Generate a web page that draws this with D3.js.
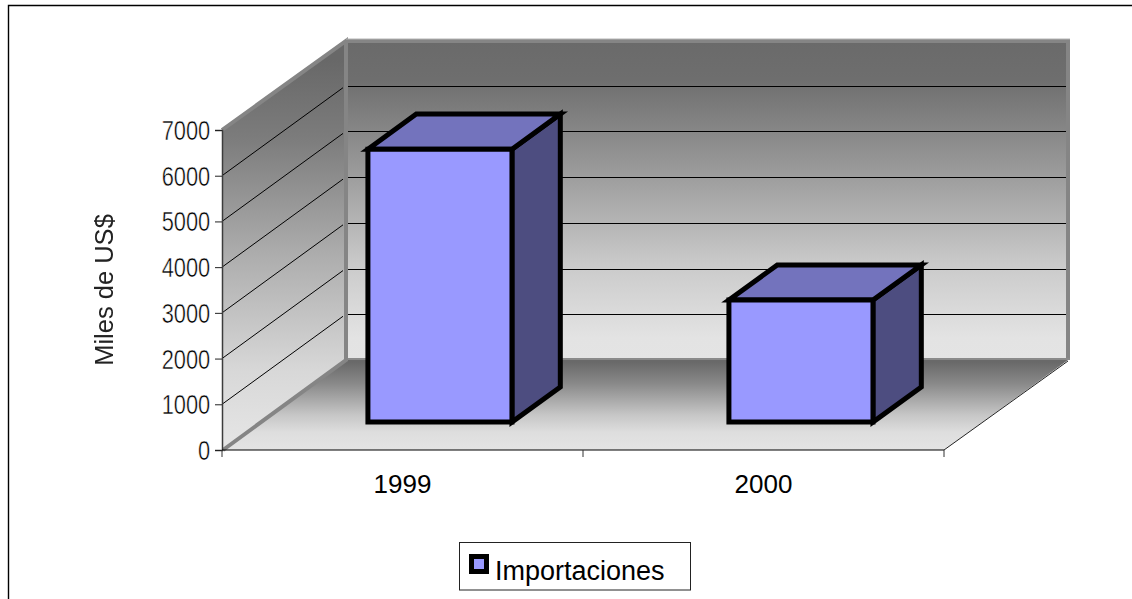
<!DOCTYPE html>
<html>
<head>
<meta charset="utf-8">
<script src="https://cdnjs.cloudflare.com/ajax/libs/d3/7.8.5/d3.min.js"></script>
<style>
    html, body { margin: 0; padding: 0; background: #fff; overflow: hidden; }
    text { font-family: "Liberation Sans", Arial, sans-serif; fill: #000; }
</style>
</head>
<body>
<div id="chart"></div>
<script>
// Chart values
const years = ['1999', '2000'];
const imports = [5970, 2670];
const y_ticks = [0, 1000, 2000, 3000, 4000, 5000, 6000, 7000];
const series_name = 'Importaciones';
const y_title = 'Miles de US$';

const width = 1132, height = 599;
const front = { left: 222, right: 944, bottom: 450, top: 130 };
const depth_x = 124, depth_y = -90;

const svg = d3.select('#chart').append('svg')
    .attr('width', width)
    .attr('height', height);

// Scales
const x_scale = d3.scaleBand().domain(years).range([front.left, front.right]);
const y_scale = d3.scaleLinear().domain([0, 7000]).range([front.bottom, front.top]);
const depth_scale = d3.scaleLinear().domain([0, 1]).range([0, 1]);

// Project a point in the 3D box to the screen
const px = (x, z) => x + depth_scale(z) * depth_x;
const py = (y, z) => y + depth_scale(z) * depth_y;
const poly = pts => pts.map(p => p.join(',')).join(' ');

// Gradients
const defs = svg.append('defs');
function add_gradient(id, y1, y2, stops) {
    const g = defs.append('linearGradient')
        .attr('id', id)
        .attr('gradientUnits', 'userSpaceOnUse')
        .attr('x1', 0).attr('x2', 0)
        .attr('y1', y1).attr('y2', y2);
    stops.forEach(s => g.append('stop').attr('offset', s[0]).attr('stop-color', s[1]));
}
add_gradient('wall-grad', 41, 360, [[0, '#6a6a6a'], [0.12, '#6e6e6e'], [0.4, '#999'], [0.7, '#cacaca'], [0.93, '#e3e3e3'], [1, '#e4e4e4']]);
add_gradient('side-grad', 60, 450, [[0, '#686868'], [0.2, '#7c7c7c'], [0.5, '#adadad'], [0.8, '#d8d8d8'], [1, '#e6e6e6']]);
add_gradient('floor-grad', 362, 450, [[0, '#696969'], [0.25, '#8a8a8a'], [0.6, '#c6c6c6'], [0.8, '#dedede'], [1, '#e4e4e4']]);

// Soft edge for the resampled axis title
defs.append('filter').attr('id', 'soft')
    .append('feGaussianBlur').attr('stdDeviation', 0.5);

// Outer frame
svg.append('path')
    .attr('d', `M8.5,${height}V5.5H${width}`)
    .attr('fill', 'none')
    .attr('stroke', '#000')
    .attr('stroke-width', 1.4);

// Walls and floor
const x0 = front.left, x1 = front.right, y0 = front.bottom, y1 = front.top;

svg.append('polygon')
    .attr('points', poly([[px(x0, 1), py(y1, 1)], [px(x1, 1), py(y1, 1)], [px(x1, 1), py(y0, 1)], [px(x0, 1), py(y0, 1)]]))
    .attr('fill', 'url(#wall-grad)');

svg.append('polygon')
    .attr('points', poly([[x0, y1], [px(x0, 1), py(y1, 1)], [px(x0, 1), py(y0, 1)], [x0, y0]]))
    .attr('fill', 'url(#side-grad)');

svg.append('polygon')
    .attr('points', poly([[x0, y0], [x1, y0], [px(x1, 1), py(y0, 1)], [px(x0, 1), py(y0, 1)]]))
    .attr('fill', 'url(#floor-grad)');

// Gridlines
const grid = svg.append('g').attr('stroke', '#000').attr('stroke-width', 1).attr('fill', 'none');
y_ticks.filter(d => d > 0 && d < 7000).forEach(d => {
    const y = y_scale(d);
    grid.append('line')
        .attr('x1', x0).attr('y1', y)
        .attr('x2', px(x0, 1) - 3).attr('y2', py(y, 1) + 2);
    grid.append('line')
        .attr('x1', px(x0, 1)).attr('y1', Math.round(py(y, 1)) + 0.5)
        .attr('x2', px(x1, 1)).attr('y2', Math.round(py(y, 1)) + 0.5);
});

// Wall borders
const wall_border = svg.append('g').attr('fill', 'none').attr('stroke', '#858585').attr('stroke-width', 4);
wall_border.append('polyline')
    .attr('points', poly([[x0, y1], [px(x0, 1), py(y1, 1) + 1], [px(x0, 1), py(y0, 1)], [x0 + 1, y0]]));
wall_border.append('polyline')
    .attr('points', poly([[px(x1, 1), py(y1, 1) + 1], [px(x1, 1), py(y0, 1)]]));
wall_border.append('line')
    .attr('x1', px(x0, 1)).attr('y1', py(y1, 1) + 1)
    .attr('x2', px(x1, 1) + 2).attr('y2', py(y1, 1) + 1);
svg.append('line')
    .attr('x1', px(x0, 1) + 2).attr('y1', py(y0, 1) - 1)
    .attr('x2', px(x1, 1) + 2).attr('y2', py(y0, 1) - 1)
    .attr('stroke', '#8a8a8a').attr('stroke-width', 2);
svg.append('line')
    .attr('x1', px(x0, 1)).attr('y1', py(y1, 1) - 1)
    .attr('x2', px(x1, 1) + 2).attr('y2', py(y1, 1) - 1)
    .attr('stroke', '#b5b5b5').attr('stroke-width', 1);

// Bars
const bar_width = 0.399, bar_z0 = 0.31, bar_z1 = 0.70, bar_shift = -1;
const bar_group = svg.append('g')
    .attr('stroke', '#000')
    .attr('stroke-width', 5)
    .attr('stroke-linejoin', 'miter');

years.forEach((year, i) => {
    const cx = x_scale(year) + x_scale.bandwidth() / 2 + bar_shift;
    const half = x_scale.bandwidth() * bar_width / 2;
    const l = cx - half, r = cx + half;
    const top = y_scale(imports[i]), bottom = y_scale(0);
    bar_group.append('polygon')
        .attr('points', poly([[px(r, bar_z0), py(top, bar_z0)], [px(r, bar_z1), py(top, bar_z1)], [px(r, bar_z1), py(bottom, bar_z1)], [px(r, bar_z0), py(bottom, bar_z0)]]))
        .attr('fill', '#4d4d80');
    bar_group.append('polygon')
        .attr('points', poly([[px(l, bar_z0), py(top, bar_z0)], [px(l, bar_z1), py(top, bar_z1)], [px(r, bar_z1), py(top, bar_z1)], [px(r, bar_z0), py(top, bar_z0)]]))
        .attr('fill', '#7373bd');
    bar_group.append('polygon')
        .attr('points', poly([[px(l, bar_z0), py(top, bar_z0)], [px(r, bar_z0), py(top, bar_z0)], [px(r, bar_z0), py(bottom, bar_z0)], [px(l, bar_z0), py(bottom, bar_z0)]]))
        .attr('fill', '#9999ff');
});

// Y axis
const y_axis = svg.append('g')
    .attr('transform', `translate(${front.left},0)`)
    .call(d3.axisLeft(y_scale).tickValues(y_ticks).tickSize(7).tickPadding(3).tickFormat(d3.format('d')));
y_axis.select('.domain').attr('stroke', '#3c3c3c').attr('stroke-width', 1.5);
y_axis.selectAll('.tick line').attr('stroke', '#222');
// narrow, thin digits: squeezed and eaten back with a white outline
y_axis.selectAll('text')
    .style('font-size', '28px')
    .style('fill', '#000')
    .style('stroke', '#fff')
    .style('stroke-width', '0.5px')
    .attr('dy', '0.34em')
    .attr('transform', 'translate(-4,0) scale(0.78,1)');

// Floor edge on the right
svg.append('line')
    .attr('x1', x1).attr('y1', y0)
    .attr('x2', px(x1, 1)).attr('y2', py(y0, 1) + 1)
    .attr('stroke', '#222').attr('stroke-width', 1);

// X axis
const x_axis = svg.append('g').attr('transform', `translate(0,${front.bottom})`);
x_axis.append('line')
    .attr('x1', x0).attr('x2', x1)
    .attr('stroke', '#000').attr('stroke-width', 1.2);
[x0, ...years.map(d => x_scale(d) + x_scale.bandwidth())].forEach(x => {
    x_axis.append('line')
        .attr('x1', x).attr('x2', x)
        .attr('y1', 0).attr('y2', 7)
        .attr('stroke', '#333');
});
x_axis.selectAll('text')
    .data(years)
    .join('text')
    .attr('x', d => x_scale(d) + x_scale.bandwidth() / 2)
    .attr('y', 43)
    .attr('text-anchor', 'middle')
    .style('font-size', '26px')
    .text(d => d);

// Axis title
svg.append('text')
    .attr('transform', 'translate(113,290) rotate(-90)')
    .attr('text-anchor', 'middle')
    .attr('filter', 'url(#soft)')
    .style('font-size', '25.5px')
    .style('fill', '#222')
    .text(y_title);

// Legend
const legend = svg.append('g');
legend.append('rect')
    .attr('x', 459.5).attr('y', 542.5)
    .attr('width', 231).attr('height', 47.5)
    .attr('fill', '#fff')
    .attr('stroke', '#222');
legend.append('rect')
    .attr('x', 471.5).attr('y', 556.5)
    .attr('width', 15).attr('height', 15)
    .attr('fill', '#9999ff')
    .attr('stroke', '#000')
    .attr('stroke-width', 5);
legend.append('text')
    .attr('x', 495).attr('y', 580)
    .style('font-size', '27px')
    .text(series_name);
</script>
</body>
</html>
